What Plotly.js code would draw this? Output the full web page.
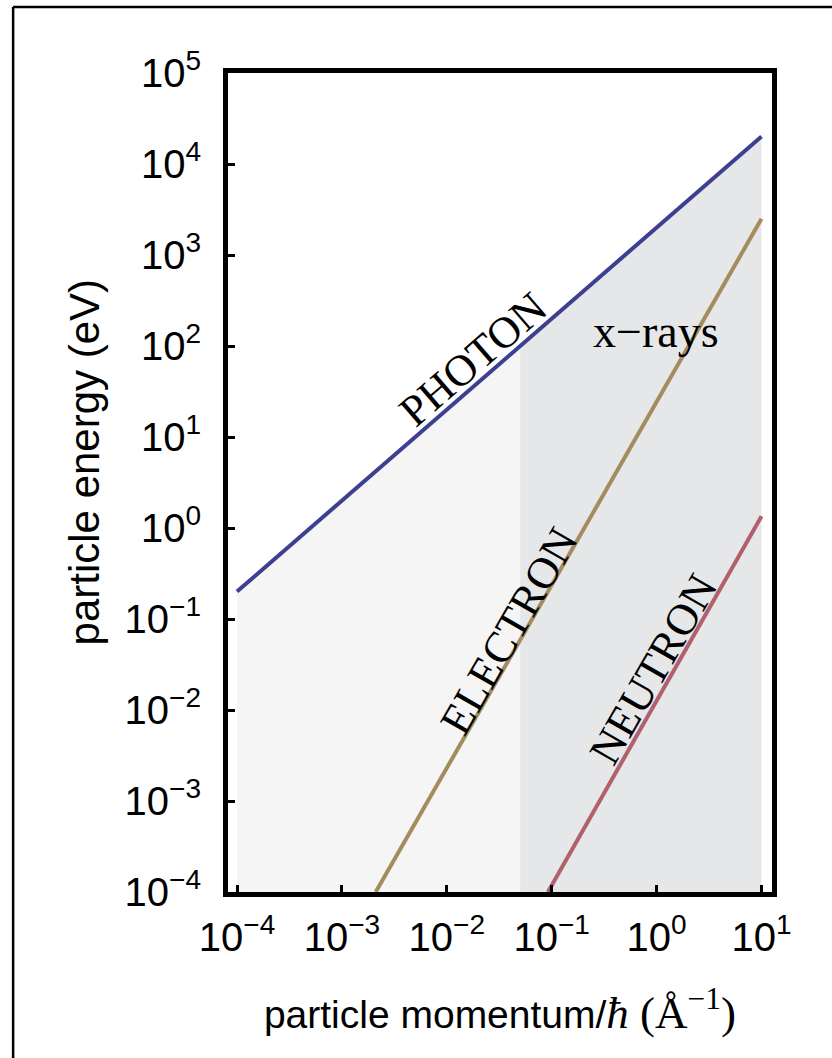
<!DOCTYPE html>
<html><head><meta charset="utf-8">
<script src="https://cdn.plot.ly/plotly-3.0.1.min.js"></script>
<style>body{margin:0;background:#fff}</style>
</head><body><div id="chart" style="width:832px;height:1058px"></div>
<script>
// particle momentum / hbar (1/Angstrom) vs particle energy (eV)
const photonMomentum = [1e-4, 10];
const photonEnergy = [0.2, 2.0e4];
const electronMomentum = [2.1e-3, 10];
const electronEnergy = [1e-4, 2.5e3];
const neutronMomentum = [0.092, 10];
const neutronEnergy = [1e-4, 1.35];
// shaded bands under the photon line: low-momentum region and x-ray region
const bandEdges = [1e-4, 0.05, 10];
const bandTop = [0.2, 100, 2.0e4];
const bandFloor = 1e-4;
const xTickVals = [1e-4, 1e-3, 1e-2, 1e-1, 1, 10];
const xTickText = ['10<sup>−4</sup>','10<sup>−3</sup>','10<sup>−2</sup>','10<sup>−1</sup>','10<sup>0</sup>','10<sup>1</sup>'];
const yTickVals = [1e-4,1e-3,1e-2,1e-1,1,10,100,1e3,1e4,1e5];
const yTickText = ['10<sup>−4</sup>','10<sup>−3</sup>','10<sup>−2</sup>','10<sup>−1</sup>','10<sup>0</sup>','10<sup>1</sup>','10<sup>2</sup>','10<sup>3</sup>','10<sup>4</sup>','10<sup>5</sup>'];

const serif = "'Liberation Serif', 'Times New Roman', serif";
const sans = "'Liberation Sans', Arial, Helvetica, sans-serif";

const traces = [
  {x:[bandEdges[0], bandEdges[1], bandEdges[1], bandEdges[0]],
   y:[bandTop[0], bandTop[1], bandFloor, bandFloor],
   mode:'lines', fill:'toself', fillcolor:'#f5f5f5', line:{width:0}, hoverinfo:'skip', showlegend:false},
  {x:[bandEdges[1], bandEdges[2], bandEdges[2], bandEdges[1]],
   y:[bandTop[1], bandTop[2], bandFloor, bandFloor],
   mode:'lines', fill:'toself', fillcolor:'#e6e7e9', line:{width:0}, hoverinfo:'skip', showlegend:false},
  {x:photonMomentum, y:photonEnergy, mode:'lines', line:{color:'#3d3f91', width:4}, showlegend:false},
  {x:electronMomentum, y:electronEnergy, mode:'lines', line:{color:'#a48c5e', width:4}, showlegend:false},
  {x:neutronMomentum, y:neutronEnergy, mode:'lines', line:{color:'#b1606c', width:4}, showlegend:false}
];

const layout = {
  width:832, height:1058,
  margin:{l:228, r:60, t:73, b:166},
  paper_bgcolor:'#fff', plot_bgcolor:'#fff',
  showlegend:false,
  xaxis:{type:'log', range:[-4.086, 1.1], showgrid:false, zeroline:false,
    showline:true, linecolor:'#000', linewidth:5, mirror:true,
    ticks:'inside', ticklen:7, tickwidth:3, tickcolor:'#000',
    tickvals:xTickVals, ticktext:xTickText,
    tickfont:{family:sans, size:40, color:'#000'}, ticklabelstandoff:6,
    title:{text:"particle momentum/<span style=\"font-family:'Liberation Serif';font-size:45px\"><i>ħ</i> (Å<sup>−1</sup>)</span>", font:{family:sans, size:39, color:'#000'}, standoff:44}},
  yaxis:{type:'log', range:[-4, 5], showgrid:false, zeroline:false,
    showline:true, linecolor:'#000', linewidth:5, mirror:true,
    ticks:'inside', ticklen:7, tickwidth:3, tickcolor:'#000',
    tickvals:yTickVals, ticktext:yTickText,
    tickfont:{family:sans, size:40, color:'#000'}, ticklabelstandoff:14,
    title:{text:'', font:{family:sans, size:38, color:'#000'}}},
  annotations:[
    {text:'particle energy (eV)', xref:'paper', yref:'paper', x:-0.263, y:0.5, xanchor:'center', yanchor:'middle',
     textangle:-90, showarrow:false, yshift:21, font:{family:sans, size:42, color:'#000'}},
    {text:'PHOTON', x:-1.752, y:1.857, xref:'x', yref:'y', showarrow:false, textangle:-40.9, font:{family:serif, size:44, color:'#000'}},
    {text:'ELECTRON', x:-1.41, y:-1.132, xref:'x', yref:'y', showarrow:false, textangle:-60, font:{family:serif, size:44, color:'#000'}},
    {text:'NEUTRON', x:-0.029, y:-1.56, xref:'x', yref:'y', showarrow:false, textangle:-60, font:{family:serif, size:44, color:'#000'}},
    {text:'x−rays', x:-0.01, y:2.16, xref:'x', yref:'y', showarrow:false, font:{family:serif, size:46, color:'#000'}}
  ],
  shapes:[
    {type:'line', xref:'paper', yref:'paper', x0:-0.395, x1:-0.395, y0:-0.25, y1:1.0806, line:{color:'#000', width:2.5}},
    {type:'line', xref:'paper', yref:'paper', x0:-0.395, x1:1.2, y0:1.0806, y1:1.0806, line:{color:'#000', width:2.5}}
  ]
};
Plotly.newPlot('chart', traces, layout, {displayModeBar:false, staticPlot:true});
</script></body></html>
